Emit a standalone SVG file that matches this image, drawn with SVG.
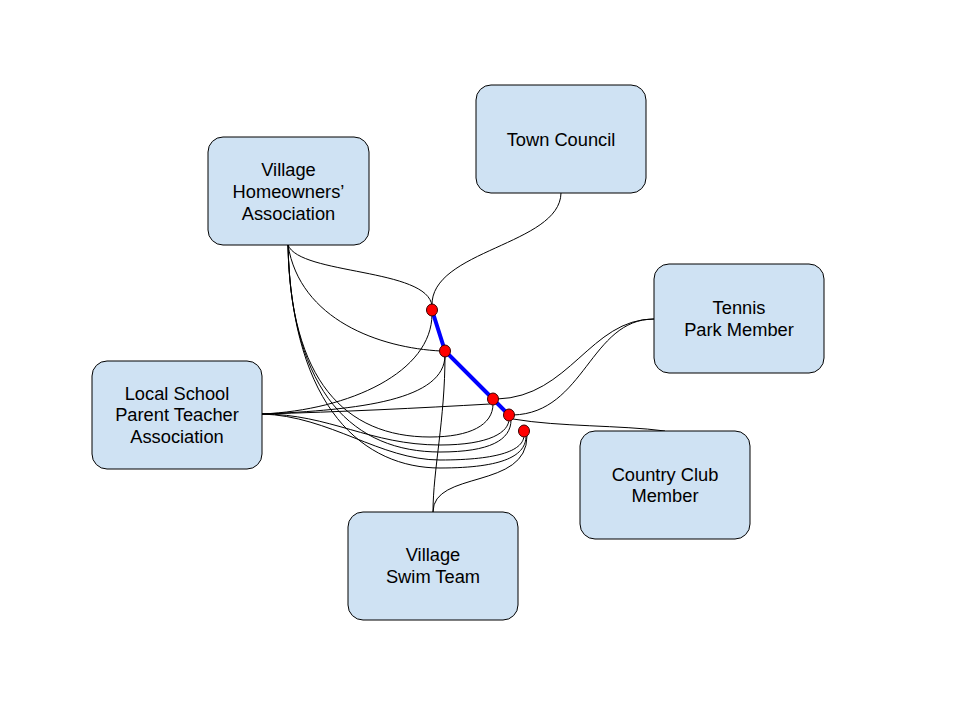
<svg xmlns="http://www.w3.org/2000/svg" width="960" height="720" viewBox="0 0 960 720">
<style>
.node rect{fill:#cfe2f3;stroke:#000;stroke-width:1}
.node text{font-family:"Liberation Sans",Arial,sans-serif;font-size:18.3px;fill:#000;text-anchor:middle}
.c{fill:none;stroke:#000;stroke-width:1}
.hl{fill:none;stroke:#0000ff;stroke-width:4;stroke-linecap:butt}
.dot{fill:#ff0000;stroke:#3a0000;stroke-width:1}
</style>
<rect width="960" height="720" fill="#fff"/>
<g id="connectors">
<path class="c" d="M561,193 C560,245 430,250 432,306"/>
<path class="c" d="M288,245 C300,275 428,268 432,306"/>
<path class="c" d="M288,245 C300,320 380,348 441,351"/>
<path class="c" d="M262,414 C350,410 432,372 432,314"/>
<path class="c" d="M262,414 C360,410 445,400 445,355"/>
<path class="c" d="M262,414 C340,412 420,408 490,404"/>
<path class="c" d="M445,355 C445,420 433,470 433,512"/>
<path class="c" d="M433,512 C433,470 527,490 527,436"/>
<path class="c" d="M654,319 C590,319 570,397 497,399"/>
<path class="c" d="M654,319 C590,319 585,413 513,415"/>
<path class="c" d="M513,419 C560,427 620,425 665,431"/>
<path class="c" d="M288,245 C290,380 345,437 430,437 C470,437 493,425 493,404"/>
<path class="c" d="M262,414 C330,414 370,445 440,445 C490,445 509,432 509,419"/>
<path class="c" d="M288,245 C291,395 355,452 440,452 C490,452 511,440 511,420"/>
<path class="c" d="M262,414 C330,416 380,460 440,460 C500,460 524,450 524,435"/>
<path class="c" d="M288,245 C292,410 365,468 440,468 C505,468 526,455 526,436"/>
</g>
<g id="highlight">
<path class="hl" d="M432,310 L445,351 L493,399 L509,415"/>
</g>
<g id="junctions">
<ellipse class="dot" cx="432" cy="310" rx="5.5" ry="6"/>
<ellipse class="dot" cx="445" cy="351" rx="5.5" ry="6"/>
<ellipse class="dot" cx="493" cy="399" rx="5.5" ry="6"/>
<ellipse class="dot" cx="509" cy="415" rx="5.5" ry="6"/>
<ellipse class="dot" cx="524" cy="431" rx="5.5" ry="6"/>
</g>
<g id="village-homeowners" class="node">
<rect x="208" y="137" width="161" height="108" rx="15"/>
<text x="288.5" y="176">Village</text>
<text x="288.5" y="198">Homeowners’</text>
<text x="288.5" y="220">Association</text>
</g>
<g id="town-council" class="node">
<rect x="476" y="85" width="170" height="108" rx="15"/>
<text x="561" y="146">Town Council</text>
</g>
<g id="tennis" class="node">
<rect x="654" y="264" width="170" height="109" rx="15"/>
<text x="739" y="314">Tennis</text>
<text x="739" y="336">Park Member</text>
</g>
<g id="school-pta" class="node">
<rect x="92" y="361" width="170" height="108" rx="15"/>
<text x="177" y="400">Local School</text>
<text x="177" y="421">Parent Teacher</text>
<text x="177" y="443">Association</text>
</g>
<g id="country-club" class="node">
<rect x="580" y="431" width="170" height="108" rx="15"/>
<text x="665" y="481">Country Club</text>
<text x="665" y="502">Member</text>
</g>
<g id="swim-team" class="node">
<rect x="348" y="512" width="170" height="108" rx="15"/>
<text x="433" y="561">Village</text>
<text x="433" y="583">Swim Team</text>
</g>
</svg>
